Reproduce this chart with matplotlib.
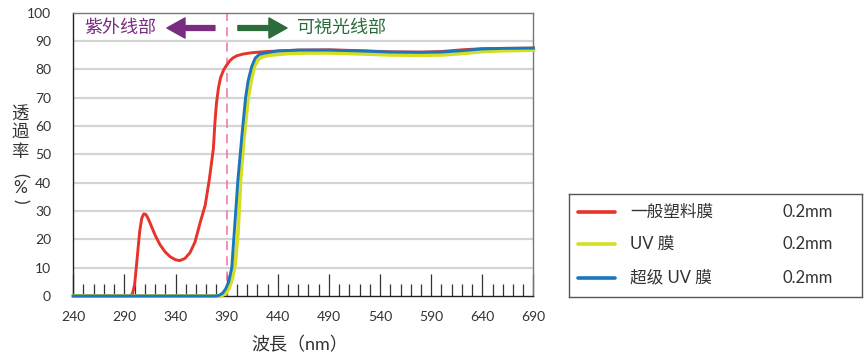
import matplotlib.pyplot as plt
from matplotlib.lines import Line2D

# transmittance curves
red_nm = [240, 290, 296, 298, 300, 302, 305, 307, 309, 311, 313, 316, 320, 325, 330, 335, 340, 344,
          349, 354, 359, 364, 369, 373, 377, 378.5, 380, 382, 384, 387, 390, 393, 396, 400, 406,
          415, 430, 460, 490, 520, 550, 580, 600, 620, 640, 660, 690]
red_t = [0, 0, 0, 1, 4, 11.5, 23, 27.5, 29, 28.8, 27.5, 25, 21.5, 18, 15.5, 13.8, 12.8, 12.5,
         13.2, 15.2, 19, 25.8, 32, 41, 52, 61, 68, 73.5, 77, 79.8, 81.5, 83, 84, 84.8, 85.4,
         85.9, 86.3, 86.8, 86.9, 86.6, 86.2, 86.1, 86.3, 86.9, 87.3, 87.4, 87.5]

blue_nm = [240, 380, 383, 386, 389, 392, 395, 398.5, 401, 405, 408.5, 411, 414.5, 418, 422, 428,
           440, 460, 490, 520, 550, 580, 600, 620, 640, 660, 690]
blue_t = [0, 0, 0.3, 1, 2.5, 5, 10, 28, 41, 57, 70, 76, 81, 84, 85.3, 85.8,
          86.5, 86.8, 86.8, 86.5, 86.1, 86.0, 86.1, 86.6, 87.2, 87.4, 87.5]

yellow_nm = [240, 383, 386, 389, 392, 395, 398, 401, 403.6, 407, 411, 414, 417, 421, 425, 432,
             450, 470, 490, 520, 550, 580, 600, 620, 640, 660, 690]
yellow_t = [0, 0, 0.3, 1, 2.5, 5.5, 10.5, 22, 41, 56, 70, 76, 81, 83.5, 84.5, 85.0,
            85.6, 85.8, 85.8, 85.5, 85.1, 85.0, 85.1, 85.6, 86.3, 86.6, 86.8]

series_names = ['一般塑料膜', 'UV 膜', '超级 UV 膜']
series_thick = ['0.2mm', '0.2mm', '0.2mm']
series_colors = ['#E8332A', '#D5DF22', '#1B77BD']

x_ticks = list(range(240, 691, 50))
y_ticks = list(range(0, 101, 10))

# y label written top to bottom, brackets turned for vertical writing
ylabel_chars = ['透', '過', '率', '(', '%', ')']
ylabel_rot = [0, 0, 0, -90, 0, -90]

plt.rcParams['font.family'] = ['Lato', 'Noto Sans CJK SC']

fig = plt.figure(figsize=(8.65, 3.62), dpi=100)
ax = fig.add_axes([0.0847, 0.1823, 0.532, 0.7826])

# grid
for v in y_ticks[1:-1]:
    ax.axhline(v, color='#D4D4D4', lw=1.6, zorder=0)

ax.plot(red_nm, red_t, color=series_colors[0], lw=2.1, zorder=3, clip_on=False)
ax.plot(yellow_nm, yellow_t, color=series_colors[1], lw=2.7, zorder=4, clip_on=False)
ax.plot(blue_nm, blue_t, color=series_colors[2], lw=2.1, zorder=5, clip_on=False)

ax.axvline(390, color='#F26FA8', lw=1.1, ls=(0, (6, 4)), zorder=2)

ax.set_xlim(240, 690)
ax.set_ylim(0, 100)
ax.set_xticks(x_ticks)
ax.set_xticks(range(240, 691, 10), minor=True)
ax.set_yticks(y_ticks)
ax.tick_params(axis='x', which='major', direction='in', length=16, width=0.9,
               color='#333333', pad=11, labelsize=10, labelcolor='#333333')
ax.tick_params(axis='x', which='minor', direction='in', length=8.5, width=0.9, color='#333333')
ax.tick_params(axis='y', length=0, pad=16, labelsize=10, labelcolor='#333333')

ax.spines['left'].set_color('#222222')
ax.spines['bottom'].set_color('#222222')
ax.spines['top'].set_color('#777777')
ax.spines['right'].set_color('#777777')
for s in ax.spines.values():
    s.set_linewidth(1.0)

# region annotations
ax.annotate('', xy=(331.6, 94.6), xytext=(378.5, 94.6),
            arrowprops=dict(arrowstyle='simple,head_length=1.3,head_width=1.45,tail_width=0.35',
                            color='#7A2C80', shrinkA=0, shrinkB=0))
ax.annotate('', xy=(449, 94.6), xytext=(401, 94.6),
            arrowprops=dict(arrowstyle='simple,head_length=1.3,head_width=1.45,tail_width=0.35',
                            color='#2C6B3C', shrinkA=0, shrinkB=0))
ax.text(250.5, 94.6, '紫外线部', color='#7A2C80', fontsize=13, va='center', ha='left')
ax.text(458.6, 94.6, '可視光线部', color='#2C6B3C', fontsize=13, va='center', ha='left')

# stacked vertical y label
label_y_px = [115, 132, 152.5, 175, 188, 201]
for ch, rot, ypx in zip(ylabel_chars, ylabel_rot, label_y_px):
    fig.text(20 / 865, 1 - ypx / 362, ch, fontsize=12.5, color='#333333',
             ha='center', va='center', rotation=rot)
fig.text(0.346, 0.047, '波長（nm）', fontsize=13, color='#333333', ha='center', va='center')

# legend box
lg = fig.add_axes([0.6578, 0.1796, 0.3387, 0.2845])
lg.set_xlim(0, 1)
lg.set_ylim(0, 1)
lg.set_xticks([])
lg.set_yticks([])
for s in lg.spines.values():
    s.set_color('#555555')
    s.set_linewidth(1.0)
row_y = [0.825, 0.515, 0.187]
for name, thick, col, yy in zip(series_names, series_thick, series_colors, row_y):
    lg.add_line(Line2D([0.031, 0.157], [yy, yy], color=col, lw=2.6, solid_capstyle='round'))
    lg.text(0.208, yy, name, fontsize=12, color='#333333', va='center', ha='left')
    lg.text(0.730, yy, thick, fontsize=12, color='#333333', va='center', ha='left')

fig.savefig('out.png', dpi=100)
